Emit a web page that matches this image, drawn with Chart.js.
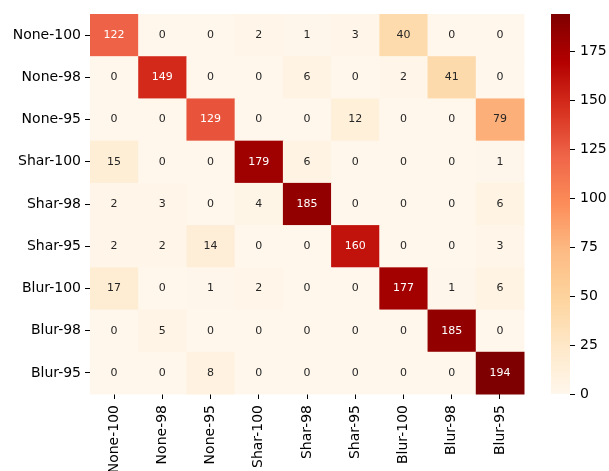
<!DOCTYPE html>
<html>
<head>
<meta charset="utf-8">
<script src="https://cdn.jsdelivr.net/npm/chart.js@4"></script>
<style>
  body { margin: 0; background: #fff; }
  #main { position: absolute; left: 0; top: 0; }
  #bar { position: absolute; left: 540px; top: 0; }
</style>
</head>
<body>
<canvas id="main" width="609" height="471"></canvas>
<canvas id="bar" width="69" height="471"></canvas>
<script>
const labels = ['None-100', 'None-98', 'None-95', 'Shar-100', 'Shar-98', 'Shar-95', 'Blur-100', 'Blur-98', 'Blur-95'];

const rowNone100 = [122, 0, 0, 2, 1, 3, 40, 0, 0];
const rowNone98  = [0, 149, 0, 0, 6, 0, 2, 41, 0];
const rowNone95  = [0, 0, 129, 0, 0, 12, 0, 0, 79];
const rowShar100 = [15, 0, 0, 179, 6, 0, 0, 0, 1];
const rowShar98  = [2, 3, 0, 4, 185, 0, 0, 0, 6];
const rowShar95  = [2, 2, 14, 0, 0, 160, 0, 0, 3];
const rowBlur100 = [17, 0, 1, 2, 0, 0, 177, 1, 6];
const rowBlur98  = [0, 5, 0, 0, 0, 0, 0, 185, 0];
const rowBlur95  = [0, 0, 8, 0, 0, 0, 0, 0, 194];
const rows = [rowNone100, rowNone98, rowNone95, rowShar100, rowShar98, rowShar95, rowBlur100, rowBlur98, rowBlur95];

const colorbarTicks = [0, 25, 50, 75, 100, 125, 150, 175];

const vmin = 0;
const vmax = Math.max(...rows.flat());

// matplotlib OrRd
const orrd = ['#fff7ec', '#fee8c8', '#fdd49e', '#fdbb84', '#fc8d59', '#ef6548', '#d7301f', '#b30000', '#7f0000'];
const stops = orrd.map(h => [parseInt(h.slice(1, 3), 16), parseInt(h.slice(3, 5), 16), parseInt(h.slice(5, 7), 16)]);

function cmap(v) {
  let t = (v - vmin) / (vmax - vmin);
  t = Math.max(0, Math.min(1, t)) * (stops.length - 1);
  const i = Math.min(Math.floor(t), stops.length - 2);
  const f = t - i;
  const a = stops[i], b = stops[i + 1];
  return a.map((c, k) => c + (b[k] - c) * f);
}

function lum(rgb) {
  const l = rgb.map(c => {
    c = c / 255;
    return c <= 0.03928 ? c / 12.92 : Math.pow((c + 0.055) / 1.055, 2.4);
  });
  return 0.2126 * l[0] + 0.7152 * l[1] + 0.0722 * l[2];
}

const points = [];
rows.forEach((row, r) => row.forEach((v, c) => points.push({ x: labels[c], y: labels[r], v: v })));

const font = { family: 'DejaVu Sans', size: 14 };

const heatPlugin = {
  id: 'heat',
  beforeDatasetsDraw(chart) {
    const { ctx, scales: { x, y } } = chart;
    const w = x.width / labels.length;
    const h = y.height / labels.length;
    ctx.save();
    points.forEach(p => {
      const cx = x.getPixelForValue(labels.indexOf(p.x));
      const cy = y.getPixelForValue(labels.indexOf(p.y));
      const rgb = cmap(p.v);
      ctx.fillStyle = `rgb(${rgb.map(Math.round).join(',')})`;
      ctx.fillRect(cx - w / 2, cy - h / 2, w + 0.5, h + 0.5);
    });
    ctx.font = '11px "DejaVu Sans"';
    ctx.textAlign = 'center';
    ctx.textBaseline = 'middle';
    points.forEach(p => {
      const cx = x.getPixelForValue(labels.indexOf(p.x));
      const cy = y.getPixelForValue(labels.indexOf(p.y));
      ctx.fillStyle = lum(cmap(p.v)) > 0.408 ? '#262626' : '#ffffff';
      ctx.fillText(String(p.v), cx, cy);
    });
    ctx.restore();
  }
};

new Chart(document.getElementById('main'), {
  type: 'scatter',
  data: {
    datasets: [{ data: points, pointRadius: 0, pointHoverRadius: 0 }]
  },
  options: {
    responsive: false,
    animation: false,
    devicePixelRatio: 1,
    layout: { padding: { top: 14, right: 85, left: 0, bottom: 0 } },
    plugins: { legend: { display: false }, tooltip: { enabled: false } },
    scales: {
      x: {
        type: 'category',
        labels: labels,
        offset: true,
        border: { display: false },
        grid: { offset: false, drawOnChartArea: false, drawTicks: true, tickLength: 5, tickColor: '#000', tickWidth: 1 },
        ticks: { color: '#000', font: font, minRotation: 90, maxRotation: 90, padding: 6, autoSkip: false },
        afterFit(s) { s.height = 77; }
      },
      y: {
        type: 'category',
        labels: labels,
        offset: true,
        border: { display: false },
        grid: { offset: false, drawOnChartArea: false, drawTicks: true, tickLength: 5, tickColor: '#000', tickWidth: 1 },
        ticks: { color: '#000', font: font, padding: 4, autoSkip: false },
        afterFit(s) { s.width = 90; }
      }
    }
  },
  plugins: [heatPlugin]
});

const gradientPlugin = {
  id: 'gradient',
  beforeDatasetsDraw(chart) {
    const { ctx, chartArea: a } = chart;
    const g = ctx.createLinearGradient(0, a.bottom, 0, a.top);
    orrd.forEach((c, i) => g.addColorStop(i / (orrd.length - 1), c));
    ctx.save();
    ctx.fillStyle = g;
    ctx.fillRect(a.left, a.top, a.right - a.left, a.bottom - a.top);
    ctx.restore();
  }
};

new Chart(document.getElementById('bar'), {
  type: 'bar',
  data: { labels: [''], datasets: [{ data: [] }] },
  options: {
    responsive: false,
    animation: false,
    devicePixelRatio: 1,
    layout: { padding: { top: 14, left: 11, right: 0, bottom: 77 } },
    plugins: { legend: { display: false }, tooltip: { enabled: false } },
    scales: {
      x: { display: false },
      y: {
        position: 'right',
        min: vmin,
        max: vmax,
        border: { display: false },
        grid: { drawOnChartArea: false, drawTicks: true, tickLength: 5, tickColor: '#000' },
        afterBuildTicks(s) { s.ticks = colorbarTicks.map(v => ({ value: v })); },
        ticks: { color: '#000', font: font, padding: 5 },
        afterFit(s) { s.width = 39; }
      }
    }
  },
  plugins: [gradientPlugin]
});
</script>
</body>
</html>
